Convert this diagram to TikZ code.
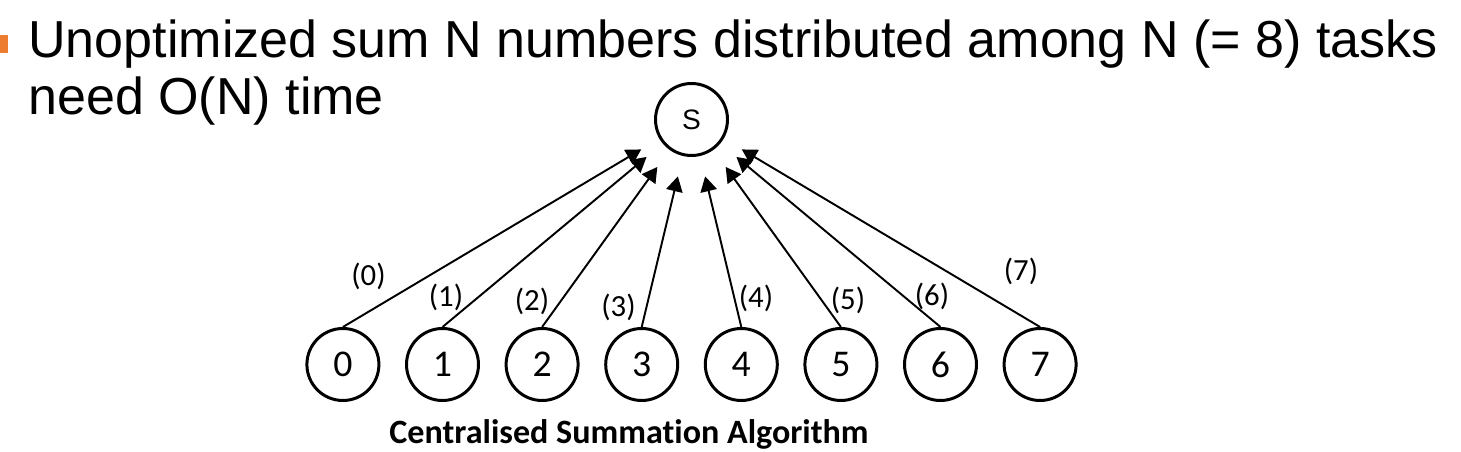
\documentclass[tikz,border=0pt]{standalone}
\usepackage{fontspec}
\setmainfont{Liberation Sans}
\newfontfamily\calibri[Ligatures=NoCommon]{Carlito}
\usetikzlibrary{shapes,arrows.meta}
\definecolor{bulletorange}{RGB}{237,125,49}

\begin{document}
\begin{tikzpicture}
    \useasboundingbox (0,0) rectangle (29.22,9.04);
    \tikzstyle{proc}=[circle,draw,line width=1.7pt,minimum size=1.44cm,inner sep=0pt]
    \tikzstyle{every child node}=[proc,font=\calibri\fontsize{21.5}{24}\selectfont]
    \tikzstyle{level 1}=[sibling distance=1.992cm]
    \tikzstyle{edge from parent}=[draw,line width=1.1pt,-{Triangle[length=0.3cm,width=0.33cm]},shorten >=0.42cm]
    \tikzstyle{weight}=[font=\calibri\fontsize{17.5}{20}\selectfont,inner sep=0pt]
    % bullet and heading
    \fill[bulletorange] (0,7.98) rectangle (0.16,8.34);
    \node[anchor=base west,inner sep=0pt,font=\fontsize{29.6}{32}\selectfont] (head1) at (0.56,7.88)
      {Unoptimized sum N numbers distributed among N (= 8) tasks};
    \node[anchor=base west,inner sep=0pt,font=\fontsize{29.6}{32}\selectfont] (head2) at (0.56,6.74)
      {need O(N) time};
    % the summing task and its eight senders
    \node[proc,font=\fontsize{16}{18}\selectfont] (sum) at (13.83,6.65) {S}
      [level distance=4.9cm,
       edge from parent path={(\tikzchildnode.north) -- (\tikzparentnode)}]
    child {
      node (t0) {0}
    }
    child {
      node (t1) {1}
    }
    child {
      node (t2) {2}
    }
    child {
      node (t3) {3}
    }
    child {
      node (t4) {4}
    }
    child {
      node (t5) {5}
    }
    child {
      node (t6) {6}
    }
    child {
      node (t7) {7}
    }
    ;
    % step labels
    \node[weight] (w0) at (7.37,3.51) {(0)};
    \node[weight] (w1) at (8.92,3.09) {(1)};
    \node[weight] (w2) at (10.64,3.01) {(2)};
    \node[weight] (w3) at (12.37,2.90) {(3)};
    \node[weight] (w4) at (15.12,3.07) {(4)};
    \node[weight] (w5) at (16.96,3.04) {(5)};
    \node[weight] (w6) at (18.64,3.12) {(6)};
    \node[weight] (w7) at (20.42,3.62) {(7)};
    \node[anchor=base,inner sep=0pt,font=\calibri\bfseries\fontsize{19.4}{22}\selectfont] (caption) at (12.58,0.16)
      {Centralised Summation Algorithm};
\end{tikzpicture}
\end{document}
